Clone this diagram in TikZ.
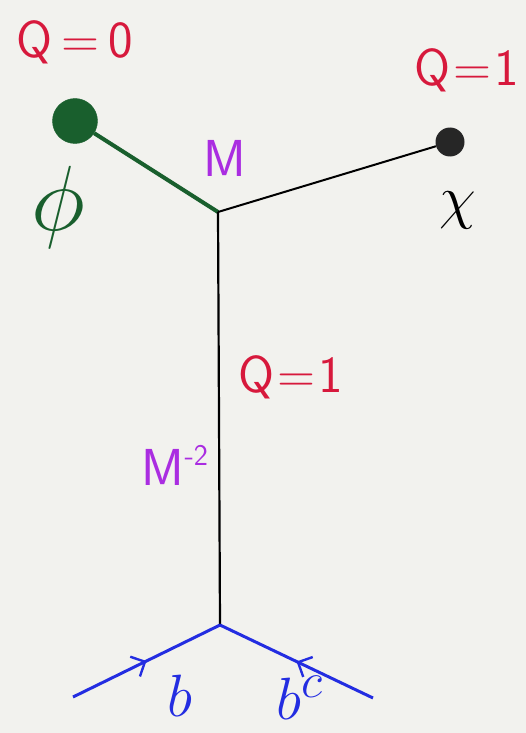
\documentclass[tikz,border=0pt]{standalone}
\usetikzlibrary{arrows.meta,decorations.markings}
\definecolor{qred}{RGB}{215,25,60}
\definecolor{dgreen}{RGB}{25,95,45}
\definecolor{mpurple}{RGB}{170,45,225}
\definecolor{bblue}{RGB}{35,45,225}
\definecolor{paper}{RGB}{242,242,238}
\begin{document}
\begin{tikzpicture}[x=1pt,y=-1pt,
  lbl/.style={inner sep=0pt,font=\fontsize{52}{56}\selectfont\sffamily},
  mlbl/.style={inner sep=0pt,font=\Huge,scale=2.4},
  bline/.style={bblue,line width=3pt},
  midarrow/.style={postaction={decorate},decoration={markings,
     mark=at position 0.5 with {\arrow{Straight Barb[length=11pt,width=22pt,line width=2.4pt]}}}}]
\fill[paper] (0,0) rectangle (526,733);
\useasboundingbox (0,0) rectangle (526,733);
% vertices and dots
\coordinate (v1) at (218,212);
\coordinate (v2) at (220,625);
\node[circle,fill=dgreen,draw=dgreen,minimum size=45pt,inner sep=0pt] (phi) at (75,121) {};
\node[circle,fill=black!85,minimum size=29pt,inner sep=0pt] (chi) at (450,142) {};
\coordinate (bl) at (73,697);
\coordinate (br) at (373,698);
% lines
\draw[dgreen,line width=4pt] (phi) -- (v1);
\draw[black,line width=2pt] (chi) -- (v1);
\draw[black,line width=2.2pt] (v1) -- (v2);
\draw[bline,midarrow] (bl) -- (v2);
\draw[bline,midarrow] (br) -- (v2);
% labels
\node[lbl,text=qred] (q0) at (75,42) {Q\hspace{9pt}=\hspace{9pt}0};
\node[lbl,text=qred] (q1a) at (467,70) {Q\hspace{3pt}=\hspace{3pt}1};
\node[lbl,text=qred] (q1b) at (291,377) {Q\hspace{3pt}=\hspace{3pt}1};
\node[lbl,text=mpurple] (mlab) at (225,158) {M};
\node[lbl,text=mpurple] (m2lab) at (175,465) {M\raisebox{20pt}{\fontsize{30}{30}\selectfont -2}};
\node[mlbl,text=dgreen,scale=1.55] (philab) at (58,207) {$\phi$};
\node[mlbl,text=black] (chilab) at (458,210) {$\chi$};
\node[mlbl,text=bblue] (blab) at (180,696) {$b$};
\node[mlbl,text=bblue] (bclab) at (300,698) {$b^{c}$};
\end{tikzpicture}
\end{document}
